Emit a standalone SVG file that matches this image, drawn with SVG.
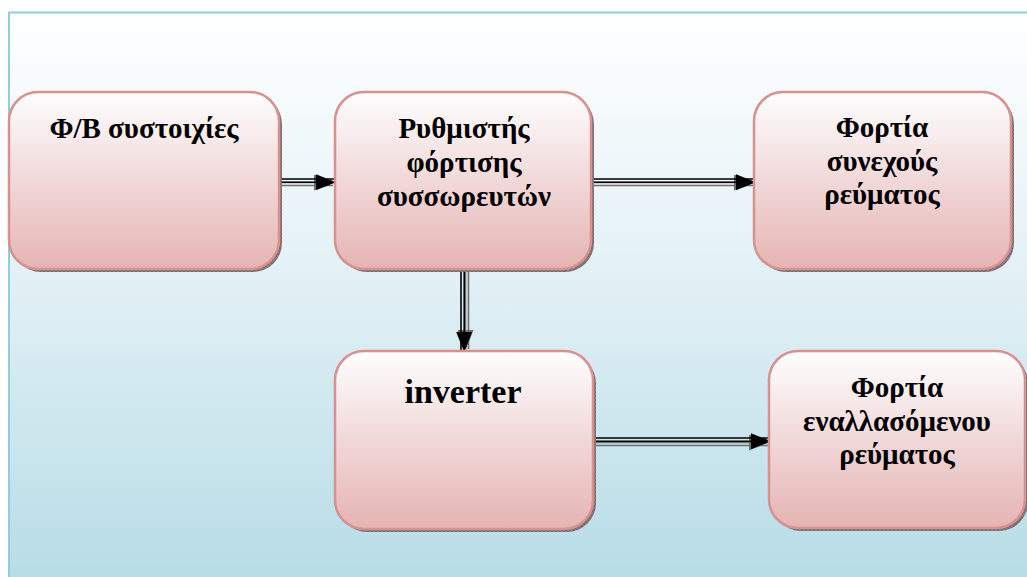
<svg xmlns="http://www.w3.org/2000/svg" width="1027" height="577" viewBox="0 0 1027 577">
  <defs>
    <linearGradient id="panelFill" x1="0" y1="0" x2="0" y2="1">
      <stop offset="0" stop-color="#ffffff"/>
      <stop offset="0.45" stop-color="#e3f1f6"/>
      <stop offset="1" stop-color="#b7dce6"/>
    </linearGradient>
    <linearGradient id="boxFill" x1="0" y1="0" x2="0" y2="1">
      <stop offset="0" stop-color="#fefefe"/>
      <stop offset="0.45" stop-color="#f2dcdc"/>
      <stop offset="1" stop-color="#e5b4b3"/>
    </linearGradient>
    <pattern id="hatch" width="4" height="4" patternUnits="userSpaceOnUse">
      <rect width="4" height="4" fill="#8a7b7f"/>
      <path d="M0 0L4 4M4 0L0 4" stroke="#6d5c60" stroke-width="0.6"/>
    </pattern>
    <marker id="head" viewBox="0 0 20 16" refX="19" refY="8" markerWidth="20" markerHeight="16" markerUnits="userSpaceOnUse" orient="auto">
      <path d="M0 0L20 8L0 16z" fill="#000"/>
    </marker>
    <marker id="headShadow" viewBox="0 0 20 16" refX="19" refY="8" markerWidth="20" markerHeight="16" markerUnits="userSpaceOnUse" orient="auto">
      <path d="M0 0L20 8L0 16z" fill="#6e6e6e"/>
    </marker>
  </defs>
  <style>
    .shadow { fill: url(#hatch); }
    .box { fill: url(#boxFill); stroke: #d8918f; stroke-width: 2.5; }
    .label { font-family: "Liberation Serif", "DejaVu Serif", "Times New Roman", serif; font-weight: bold; font-size: 29px; fill: #000; text-anchor: middle; }
    .big { font-size: 34px; }
    .wire { fill: none; stroke: #000; stroke-width: 1.6; }
    .wireShadow { fill: none; stroke: #6e6e6e; stroke-width: 1.6; }
  </style>

  <!-- background panel -->
  <rect x="9" y="12.5" width="1030" height="570" fill="url(#panelFill)" stroke="#92cddc" stroke-width="2"/>

  <!-- connectors: double rules with a dropped shadow -->
  <g id="connectors">
    <!-- PV arrays -> charge controller -->
    <path class="wireShadow" d="M278 182.5H333" marker-end="url(#headShadow)"/>
    <path class="wireShadow" d="M278 185.5H333"/>
    <path class="wire" d="M275 179H335"/>
    <path class="wire" d="M275 182.2H335" marker-end="url(#head)"/>
    <!-- charge controller -> DC loads -->
    <path class="wireShadow" d="M593 182.5H753" marker-end="url(#headShadow)"/>
    <path class="wireShadow" d="M593 185.5H753"/>
    <path class="wire" d="M590 179H755"/>
    <path class="wire" d="M590 182.2H755" marker-end="url(#head)"/>
    <!-- charge controller -> inverter -->
    <path class="wireShadow" d="M465.5 272V349" marker-end="url(#headShadow)"/>
    <path class="wireShadow" d="M468.5 272V349"/>
    <path class="wire" d="M461 268V351"/>
    <path class="wire" d="M464.2 268V351" marker-end="url(#head)"/>
    <!-- inverter -> AC loads -->
    <path class="wireShadow" d="M593 442.5H768" marker-end="url(#headShadow)"/>
    <path class="wireShadow" d="M593 445.5H768"/>
    <path class="wire" d="M590 438H770"/>
    <path class="wire" d="M590 441.2H770" marker-end="url(#head)"/>
  </g>

  <g id="pv-arrays">
    <rect class="shadow" x="12" y="95" width="270" height="177" rx="29"/>
    <rect class="box" x="9" y="92" width="270" height="177" rx="29"/>
    <text class="label" x="144" y="138">Φ/Β συστοιχίες</text>
  </g>

  <g id="charge-controller">
    <rect class="shadow" x="338" y="95" width="256" height="177" rx="29"/>
    <rect class="box" x="335" y="92" width="256" height="177" rx="29"/>
    <text class="label" x="464" y="138">Ρυθμιστής</text>
    <text class="label" x="464" y="172">φόρτισης</text>
    <text class="label" x="464" y="206">συσσωρευτών</text>
  </g>

  <g id="dc-loads">
    <rect class="shadow" x="757" y="95" width="257" height="177" rx="29"/>
    <rect class="box" x="754" y="92" width="257" height="177" rx="29"/>
    <text class="label" x="882" y="137">Φορτία</text>
    <text class="label" x="882" y="171">συνεχούς</text>
    <text class="label" x="882" y="204">ρεύματος</text>
  </g>

  <g id="inverter">
    <rect class="shadow" x="338" y="354" width="258" height="178" rx="29"/>
    <rect class="box" x="335" y="351" width="258" height="178" rx="29"/>
    <text class="label big" x="463" y="403">inverter</text>
  </g>

  <g id="ac-loads">
    <rect class="shadow" x="772" y="354" width="256" height="177" rx="29"/>
    <rect class="box" x="769" y="351" width="256" height="177" rx="29"/>
    <text class="label" x="897" y="397">Φορτία</text>
    <text class="label" x="897" y="431">εναλλασόμενου</text>
    <text class="label" x="897" y="464">ρεύματος</text>
  </g>
</svg>
